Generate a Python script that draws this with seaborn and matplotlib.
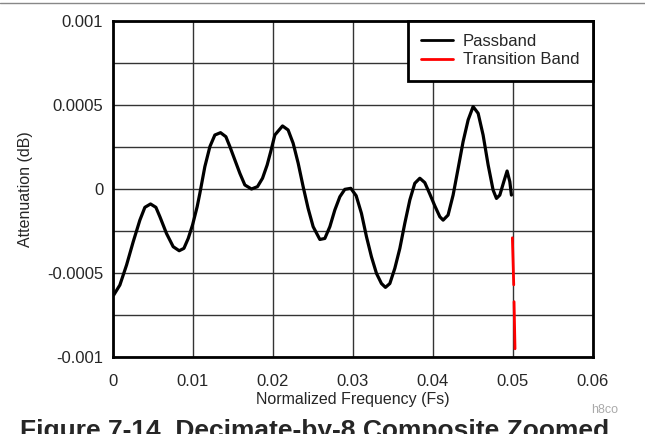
import numpy as np
import pandas as pd
import matplotlib.pyplot as plt
from matplotlib.lines import Line2D
import seaborn as sns

sns.set_style("white")
plt.rcParams['font.family'] = ['Liberation Sans', 'DejaVu Sans']

# passband ripple (x in Fs, y in 1e-3 dB)
pass_x = [0.0001, 0.000875, 0.00171, 0.00254, 0.003375, 0.0040, 0.00471, 0.00538,
          0.00588, 0.0067, 0.00754, 0.00829, 0.00888, 0.00942, 0.00996, 0.01054,
          0.010875, 0.0115, 0.01213, 0.01275, 0.01346, 0.01413, 0.01463, 0.01525,
          0.01588, 0.0165, 0.01733, 0.01808, 0.01871, 0.01929, 0.01975, 0.02025,
          0.02121, 0.02191, 0.02254, 0.02317, 0.02379, 0.02441, 0.02504, 0.02588,
          0.0265, 0.02713, 0.02775, 0.02838, 0.0290, 0.02975, 0.03042, 0.03108,
          0.03171, 0.03233, 0.03296, 0.03358, 0.03408, 0.03463, 0.03525, 0.03588,
          0.0365, 0.03713, 0.03775, 0.03838, 0.0390, 0.03963, 0.04025, 0.04088,
          0.04129, 0.04191, 0.04254, 0.04317, 0.04379, 0.04442, 0.04504, 0.04567,
          0.04629, 0.04692, 0.04754, 0.04796, 0.04838, 0.04888, 0.04929, 0.04963,
          0.04983]
pass_y = [-0.631, -0.571, -0.452, -0.314, -0.185, -0.109, -0.089, -0.109,
          -0.165, -0.264, -0.343, -0.367, -0.353, -0.294, -0.214, -0.105,
          -0.026, 0.133, 0.252, 0.321, 0.335, 0.311, 0.252, 0.173,
          0.093, 0.024, 0.000, 0.014, 0.064, 0.143, 0.225, 0.321,
          0.375, 0.351, 0.272, 0.153, 0.014, -0.115, -0.224, -0.300,
          -0.294, -0.224, -0.125, -0.046, -0.002, 0.004, -0.040, -0.145,
          -0.284, -0.403, -0.502, -0.562, -0.585, -0.562, -0.472, -0.353,
          -0.204, -0.065, 0.034, 0.064, 0.038, -0.030, -0.100, -0.165,
          -0.185, -0.155, -0.036, 0.123, 0.282, 0.411, 0.490, 0.450,
          0.321, 0.143, -0.006, -0.056, -0.036, 0.044, 0.107, 0.044,
          -0.036]

# transition band, drawn in two pieces
trans_x = [0.04995, 0.05012, 0.05016, 0.05028]
trans_y = [-0.29, -0.57, -0.67, -0.95]
trans_seg = [1, 1, 2, 2]

xticks = [0, 0.01, 0.02, 0.03, 0.04, 0.05, 0.06]
xlabels = ['0', '0.01', '0.02', '0.03', '0.04', '0.05', '0.06']
yticks = [0.001, 0.0005, 0, -0.0005, -0.001]
ylabels = ['0.001', '0.0005', '0', '-0.0005', '-0.001']

df_pass = pd.DataFrame({'x': pass_x, 'y': np.array(pass_y) * 1e-3})
df_trans = pd.DataFrame({'x': trans_x, 'y': np.array(trans_y) * 1e-3, 'seg': trans_seg})

fig = plt.figure(figsize=(6.45, 4.34), dpi=100)
ax = fig.add_axes([0.175, 0.177, 0.744, 0.775])

sns.lineplot(data=df_pass, x='x', y='y', color='black', linewidth=2.3,
             estimator=None, sort=False, ax=ax, solid_joinstyle='round')
sns.lineplot(data=df_trans, x='x', y='y', units='seg', color='red', linewidth=2.0,
             estimator=None, sort=False, ax=ax)

ax.set_xlim(0, 0.06)
ax.set_ylim(-0.001, 0.001)
ax.set_xticks(xticks)
ax.set_xticklabels(xlabels)
ax.set_yticks(yticks)
ax.set_yticklabels(ylabels)
ax.set_yticks(np.arange(-0.00075, 0.001, 0.0005), minor=True)
ax.tick_params(axis='both', which='both', length=0, labelsize=12)
ax.tick_params(axis='x', pad=12)
ax.tick_params(axis='y', pad=7)
ax.grid(True, which='both', color='#333333', linewidth=1.0)
ax.set_axisbelow(True)
for s in ax.spines.values():
    s.set_color('black')
    s.set_linewidth(2)

ax.set_xlabel('Normalized Frequency (Fs)', fontsize=11.5, labelpad=2)
ax.set_ylabel('Attenuation (dB)', fontsize=11.5, labelpad=10)

handles = [Line2D([], [], color='black', lw=2), Line2D([], [], color='red', lw=2)]
leg = ax.legend(handles, ['Passband', 'Transition Band'], loc='upper right',
                fontsize=12, fancybox=False, framealpha=1, edgecolor='black',
                borderaxespad=0, handlelength=1.9, handletextpad=0.6,
                borderpad=0.8, labelspacing=0.2)
leg.get_frame().set_linewidth(2)

fig.add_artist(Line2D([0, 1], [0.994, 0.994], color='#888888', lw=1, transform=fig.transFigure))
fig.text(0.916, 0.048, 'h8co', fontsize=9, color='#aaaaaa', ha='left', va='baseline')
fig.text(0.487, -0.009, 'Figure 7-14. Decimate-by-8 Composite Zoomed', fontsize=19,
         fontweight='bold', ha='center', va='baseline')

fig.savefig('out.png', dpi=100)
